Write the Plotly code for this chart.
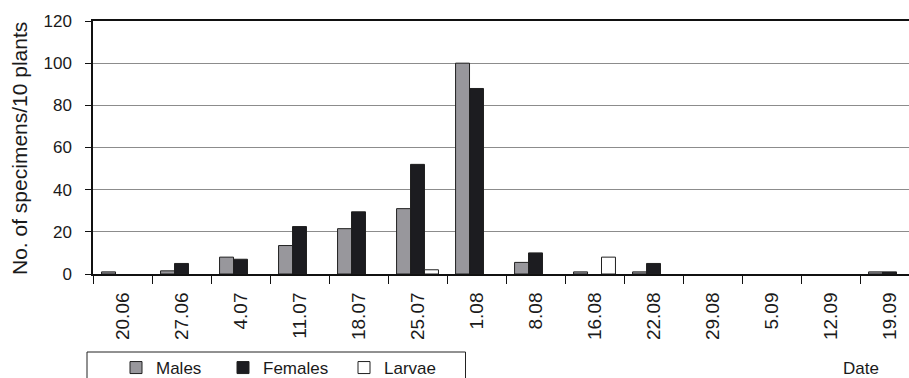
import plotly.graph_objects as go

# Sampling dates and counts per 10 plants
dates = ["20.06", "27.06", "4.07", "11.07", "18.07", "25.07", "1.08",
         "8.08", "16.08", "22.08", "29.08", "5.09", "12.09", "19.09"]
males = [1, 1.5, 8, 13.5, 21.5, 31, 100, 5.5, 1, 1, 0, 0, 0, 1]
females = [0, 5, 7, 22.5, 29.5, 52, 88, 10, 0, 5, 0, 0, 0, 1]
larvae = [0, 0, 0, 0, 0, 2, 0, 0, 8, 0, 0, 0, 0, 0]

y_ticks = [0, 20, 40, 60, 80, 100, 120]

FONT = "Liberation Sans, Arial, sans-serif"
TEXT = "#1a1a1a"
EDGE = "#202020"

# plot-area geometry in pixels, used to place the legend pieces
L, T, W, H = 93, 21, 816, 253


def px_x(px):
    return (px - L) / W


def px_y(py):
    return (T + H - py) / H


def nz(values):
    # empty counts are left undrawn rather than drawn as flat bars
    return [v if v else None for v in values]


series = [
    ("Males", males, "#98979c", "legend", 116),
    ("Females", females, "#1c1c20", "legend2", 223),
    ("Larvae", larvae, "#ffffff", "legend3", 344),
]

fig = go.Figure()
legends = {}
for name, vals, color, leg, lx in series:
    fig.add_trace(go.Bar(name=name, x=dates, y=nz(vals), legend=leg,
                         marker=dict(color=color, line=dict(color=EDGE, width=1))))
    legends[leg] = dict(orientation="h", x=px_x(lx), xanchor="left",
                        y=px_y(350), yanchor="top", borderwidth=0,
                        bgcolor="rgba(0,0,0,0)",
                        font=dict(family=FONT, size=17, color=TEXT))

fig.update_layout(
    width=909, height=378,
    margin=dict(l=L, r=0, t=T, b=378 - T - H, autoexpand=False),
    paper_bgcolor="white", plot_bgcolor="white",
    font=dict(family=FONT, size=17, color=TEXT),
    barmode="group", bargap=0.29, bargroupgap=0,
    showlegend=True,
    **legends,
    xaxis=dict(
        type="category", range=[-0.5, 13.33],
        showline=True, linecolor="#111111", linewidth=1.8, mirror=True,
        ticks="outside", tickson="boundaries", ticklen=8, tickcolor="#111111",
        tickangle=-90, ticklabelstandoff=9,
        tickfont=dict(family=FONT, size=19, color=TEXT),
        showgrid=False, zeroline=False,
    ),
    yaxis=dict(
        range=[0, 120], tickvals=y_ticks,
        showline=True, linecolor="#111111", linewidth=1.5,
        ticks="outside", ticklen=6, tickcolor="#111111", ticklabelstandoff=10,
        tickfont=dict(family=FONT, size=17, color=TEXT),
        showgrid=True, gridcolor="#8c8c8c", gridwidth=1, zeroline=False,
    ),
    shapes=[dict(type="rect", xref="paper", yref="paper",
                 x0=px_x(87), x1=px_x(465.5), y0=px_y(352), y1=px_y(400),
                 line=dict(color="#222222", width=1), fillcolor="rgba(0,0,0,0)",
                 layer="above")],
    annotations=[
        dict(text="No. of specimens/10 plants", xref="paper", yref="paper",
             x=px_x(19), y=px_y(149), xanchor="center", yanchor="middle",
             textangle=-90, showarrow=False,
             font=dict(family=FONT, size=21, color=TEXT)),
        dict(text="Date", xref="paper", yref="paper", x=px_x(841),
             y=px_y(368), xanchor="left", yanchor="middle", showarrow=False,
             font=dict(family=FONT, size=17, color=TEXT)),
    ],
)

fig.write_html("out.html")
